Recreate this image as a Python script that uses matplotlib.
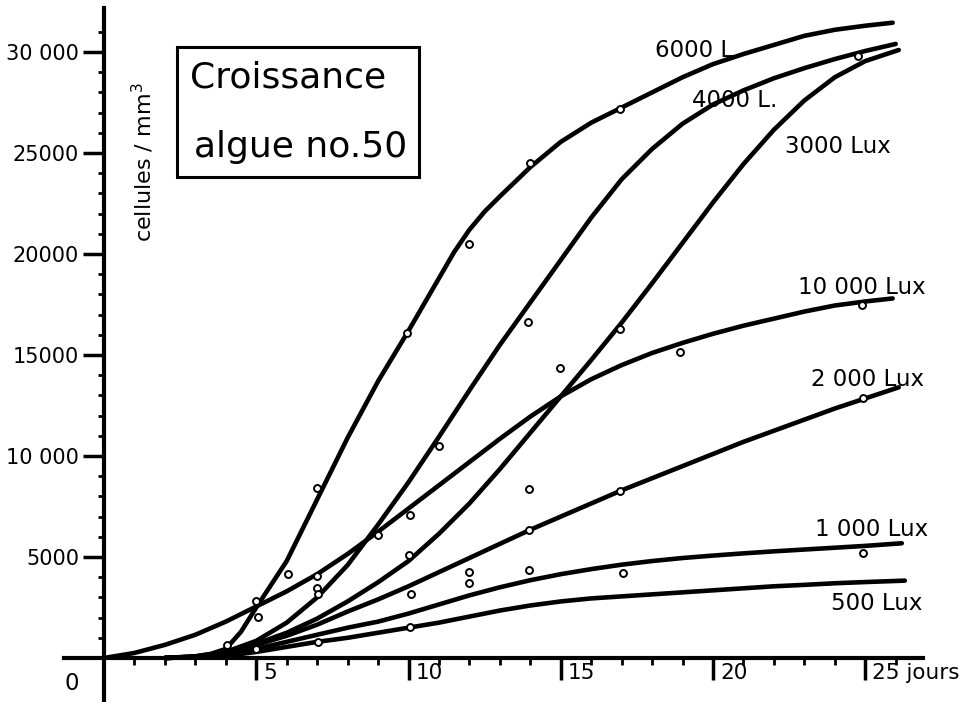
import matplotlib
matplotlib.use("Agg")
import matplotlib.pyplot as plt
from matplotlib.patches import Rectangle

# ---------------- data ----------------
days_6000 = [2, 3, 3.5, 4, 4.5, 5, 6, 7, 8, 9, 10, 11, 11.5, 12, 12.5, 13, 14, 15, 16, 17, 18, 19, 20, 21, 22,
             23, 24, 25, 25.9]
cells_6000 = [0, 80, 200, 450, 1300, 2500, 4800, 7850, 10900, 13700, 16200, 18800, 20100, 21200, 22100, 22850,
              24300, 25550, 26500, 27250, 28000, 28750, 29400, 29900, 30350, 30800, 31100, 31300, 31450]

days_4000 = [2, 3, 4, 5, 6, 7, 8, 9, 10, 11, 12, 13, 14, 15, 16, 17, 18, 19, 20, 21, 22, 23, 24, 25, 26]
cells_4000 = [0, 80, 300, 850, 1750, 3000, 4600, 6600, 8700, 10950, 13250, 15500, 17600, 19700, 21800, 23700,
              25200, 26450, 27400, 28100, 28700, 29200, 29650, 30050, 30400]

days_3000 = [2, 3, 4, 5, 6, 7, 8, 9, 10, 11, 12, 13, 14, 15, 16, 17, 18, 19, 20, 21, 22, 23, 24, 25, 26.1]
cells_3000 = [0, 60, 250, 700, 1250, 1950, 2800, 3750, 4800, 6150, 7650, 9350, 11150, 12950, 14750, 16600,
              18550, 20550, 22550, 24450, 26150, 27600, 28750, 29550, 30100]

days_10000 = [0, 1, 2, 3, 4, 5, 6, 7, 8, 9, 10, 11, 12, 13, 14, 15, 16, 17, 18, 19, 20, 21, 22, 23, 24, 25, 25.9]
cells_10000 = [0, 250, 650, 1150, 1800, 2550, 3300, 4150, 5150, 6250, 7400, 8550, 9700, 10850, 11950, 12950,
               13800, 14500, 15100, 15600, 16050, 16450, 16800, 17150, 17450, 17650, 17800]

days_2000 = [2, 3, 4, 5, 6, 7, 8, 9, 10, 11, 12, 13, 14, 15, 16, 17, 18, 19, 20, 21, 22, 23, 24, 25, 26.1]
cells_2000 = [0, 60, 250, 650, 1100, 1650, 2300, 2900, 3550, 4250, 4950, 5650, 6350, 7000, 7650, 8300,
              8900, 9500, 10100, 10700, 11250, 11800, 12350, 12850, 13400]

days_1000 = [2, 3, 4, 5, 6, 7, 8, 9, 10, 11, 12, 13, 14, 15, 16, 17, 18, 19, 20, 21, 22, 23, 24, 25, 26.2]
cells_1000 = [0, 50, 150, 450, 800, 1150, 1500, 1800, 2200, 2650, 3100, 3500, 3850, 4150, 4400, 4620,
              4800, 4950, 5070, 5180, 5280, 5370, 5460, 5550, 5680]

days_500 = [2, 3, 4, 5, 6, 7, 8, 9, 10, 11, 12, 13, 14, 15, 16, 17, 18, 19, 20, 21, 22, 23, 24, 25, 26.3]
cells_500 = [0, 40, 100, 300, 550, 800, 1000, 1250, 1500, 1750, 2050, 2350, 2600, 2800, 2950, 3050,
             3150, 3250, 3350, 3450, 3550, 3620, 3700, 3760, 3830]

# measured points (open circles)
obs_days = [4.03, 5.0, 5.05, 5.0, 6.03, 7.0, 6.98, 7.0, 7.03, 7.03, 8.99, 9.94, 10.05, 10.03, 10.07, 10.05,
            11.01, 12.0, 11.99, 11.99, 14.0, 13.94, 13.97, 13.97, 13.97, 14.97, 16.95, 16.95, 16.93, 17.03,
            18.92, 24.76, 24.88, 24.94, 24.94]
obs_cells = [650, 2840, 2030, 440, 4150, 8430, 4050, 3450, 3180, 810, 6070, 16110, 7070, 5080, 3170, 1530,
             10500, 20500, 4240, 3700, 24500, 16650, 8370, 6340, 4360, 14340, 27200, 16270, 8280, 4200,
             15160, 29800, 17470, 12850, 5180]

curve_labels = ["6000 L", "4000 L.", "3000 Lux", "10 000 Lux", "2 000 Lux", "1 000 Lux", "500 Lux"]
label_days = [19.38, 20.72, 24.1, 24.89, 25.06, 25.22, 25.39]
label_cells = [30050, 27620, 25340, 18320, 13810, 6340, 2720]

x_major = [5, 10, 15, 20, 25]
x_major_labels = ["5", "10", "15", "20", "25 jours"]
x_minor = [d for d in range(1, 27) if d % 5 != 0]
y_major = [5000, 10000, 15000, 20000, 25000, 30000]
y_major_labels = ["5000", "10 000", "15000", "20000", "25000", "30 000"]
y_minor = [v for v in range(1000, 32000, 1000) if v % 5000 != 0]

title_lines = ["Croissance", "algue no.50"]
y_title = "cellules / mm$^3$"

# ---------------- figure ----------------
W, H, DPI = 968, 702, 100
fig = plt.figure(figsize=(W / DPI, H / DPI), dpi=DPI)
ax = fig.add_axes([0, 0, 1, 1])
ax.set_facecolor("white")

x0_px, y0_px, px_per_day, px_per_cell = 104, 658, 30.45, 0.0202
ax.set_xlim(-x0_px / px_per_day, (W - x0_px) / px_per_day)
ax.set_ylim(-(H - y0_px) / px_per_cell, y0_px / px_per_cell)

for s in ["top", "right"]:
    ax.spines[s].set_visible(False)
ax.spines["left"].set_position(("data", 0))
ax.spines["bottom"].set_position(("data", 0))
ax.spines["left"].set_linewidth(3)
ax.spines["bottom"].set_linewidth(3)
ax.spines["left"].set_bounds(-(H - y0_px) / px_per_cell, 32200)
ax.spines["bottom"].set_bounds(-1.3, 26.9)

ax.set_xticks(x_major)
ax.set_xticks(x_minor, minor=True)
ax.tick_params(axis="x", which="major", direction="out", length=16, width=2.5, labelbottom=False)
ax.tick_params(axis="x", which="minor", direction="out", length=5, width=2)
ax.set_yticks(y_major, labels=y_major_labels)
ax.set_yticks(y_minor, minor=True)
ax.tick_params(axis="y", which="major", direction="out", length=15, width=2.5, pad=3, labelsize=15)
ax.tick_params(axis="y", which="minor", direction="out", length=4, width=2)

for t, lab in zip(x_major, x_major_labels):
    ax.annotate(lab, xy=(t, 0), xytext=(7, -5), textcoords="offset pixels",
                ha="left", va="top", fontsize=15.5)
ax.annotate("0", xy=(0, 0), xytext=(-32, -14), textcoords="offset pixels",
            ha="center", va="top", fontsize=16.5)

line_kw = dict(color="black", lw=3.3, solid_capstyle="round", solid_joinstyle="round", zorder=2)
for xs, ys in [(days_6000, cells_6000), (days_4000, cells_4000), (days_3000, cells_3000),
               (days_10000, cells_10000), (days_2000, cells_2000), (days_1000, cells_1000),
               (days_500, cells_500)]:
    ax.plot(xs, ys, **line_kw)

ax.plot(obs_days, obs_cells, "o", ms=5, mfc="white", mec="black", mew=1.4, zorder=3)

for lab, d, v in zip(curve_labels, label_days, label_cells):
    ax.text(d, v, lab, ha="center", va="center", fontsize=16.5, zorder=4)

# y axis title
fig.text(143 / W, 1 - 162 / H, y_title, rotation=90, ha="center", va="center", fontsize=16)

# boxed title
fig.add_artist(Rectangle((177 / W, 1 - 177 / H), 242 / W, 130 / H, transform=fig.transFigure,
                         fill=False, lw=2.2, ec="black"))
fig.text(190 / W, 1 - 88 / H, title_lines[0], ha="left", va="baseline", fontsize=26)
fig.text(194 / W, 1 - 157 / H, title_lines[1], ha="left", va="baseline", fontsize=26)

fig.savefig("out.png", dpi=DPI, facecolor="white")
